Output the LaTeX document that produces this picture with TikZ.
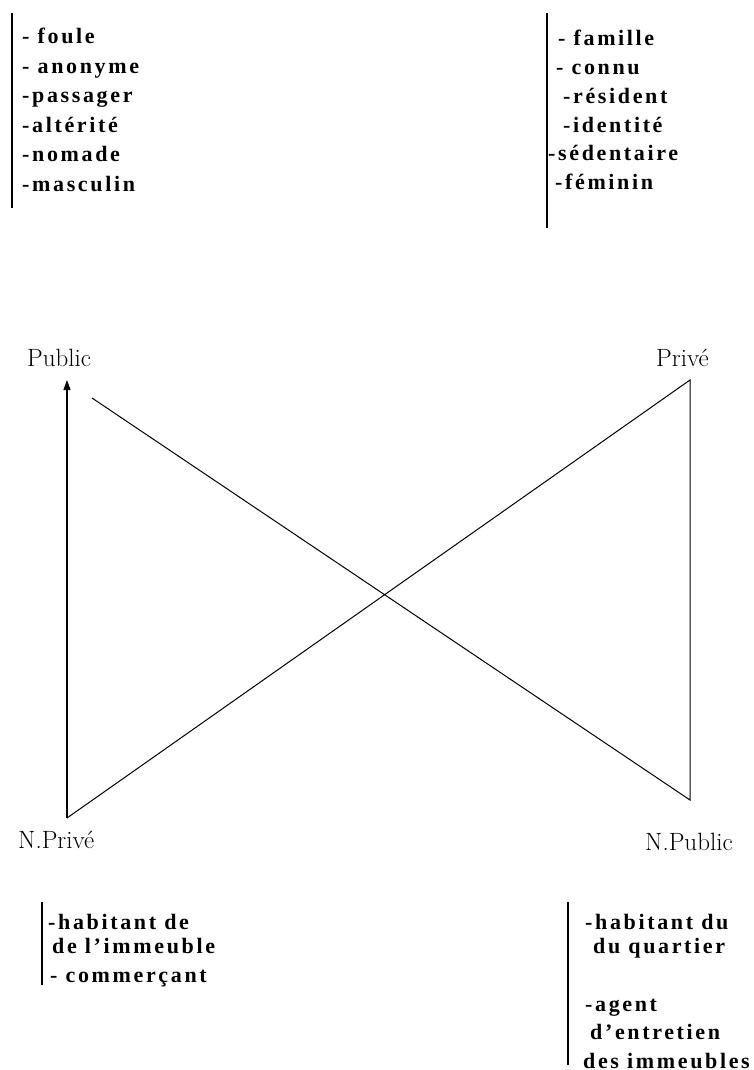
\documentclass[tikz,border=0pt]{standalone}
\usepackage{fontspec}
\newfontfamily\listfont[LetterSpace=12]{Liberation Serif}
\usetikzlibrary{arrows.meta}
\tikzset{
  listtext/.style={font=\listfont\bfseries\fontsize{22}{29}\selectfont, anchor=base west, inner sep=0pt},
  pole/.style={font=\fontsize{25}{30}\selectfont, anchor=base west, inner sep=0pt},
  bar/.style={line width=1.2pt},
}

\begin{document}
\begin{tikzpicture}[x=1pt,y=-1pt]
  \useasboundingbox (0,0) rectangle (754,1070);

  % lists at the top
  \draw[bar] (12,13) -- (12,208);
  \foreach \txt [count=\i] in {{- foule},{- anonyme},{-passager},{-altérité},{-nomade},{-masculin}}
    \node[listtext] (pub\i) at (22,{44+29.4*(\i-1)}) {\txt};

  \draw[bar] (547,13) -- (547,228);
  \foreach \txt [count=\i] in {{\hspace{10pt}- famille},{\hspace{8pt}- connu},{\hspace{15pt}-résident},
                               {\hspace{15pt}-identité},{-sédentaire},{\hspace{7pt}-féminin}}
    \node[listtext] (priv\i) at (548,{46+28.7*(\i-1)}) {\txt};

  % the four poles
  \node[pole] (public)  at (27,366)  {Public};
  \node[pole] (prive)   at (656,366) {Privé};
  \node[pole] (nprive)  at (18,848)  {N.Privé};
  \node[pole] (npublic) at (645,850) {N.Public};

  \coordinate (tl) at (67,380);
  \coordinate (st) at (92,398);
  \coordinate (tr) at (690,380);
  \coordinate (bl) at (67,818);
  \coordinate (br) at (690,800);

  \draw[line width=1.1pt, -{Triangle[length=10pt,width=7pt]}] (bl) -- (tl);
  \draw[line width=1pt] (bl) -- (tr) -- (br) -- (st);

  % lists at the bottom
  \draw[bar] (42,902) -- (42,985);
  \node[listtext] (np1) at (48,929) {-habitant de};
  \node[listtext] (np2) at (48,953) {\hspace{4pt}de l’immeuble};
  \node[listtext] (np3) at (50,982) {- commerçant};

  \draw[bar] (568,902) -- (568,1065);
  \node[listtext] (nq1) at (585,929)  {-habitant du};
  \node[listtext] (nq2) at (585,953)  {\hspace{8pt}du quartier};
  \node[listtext] (nq3) at (585,1011) {-agent};
  \node[listtext] (nq4) at (585,1039) {\hspace{5pt}d’entretien};
  \node[listtext] (nq5) at (583,1068) {des immeubles};
\end{tikzpicture}
\end{document}
